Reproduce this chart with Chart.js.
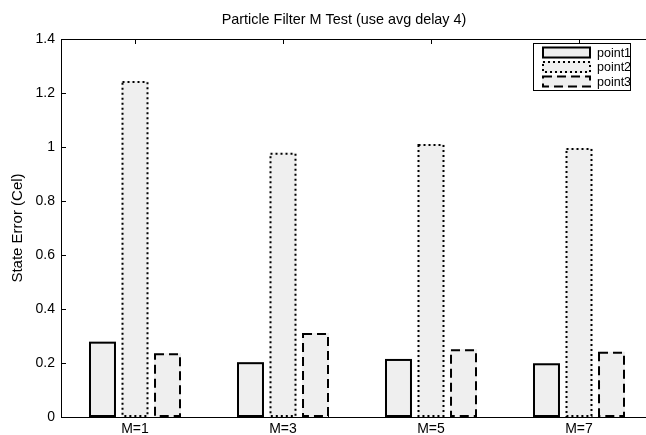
<!DOCTYPE html>
<html>
<head>
<meta charset="utf-8">
<script src="https://cdn.jsdelivr.net/npm/chart.js@4/dist/chart.umd.min.js"></script>
<style>
  html, body { margin: 0; padding: 0; background: #fff; overflow: hidden; }
  #wrap { width: 646px; height: 435px; overflow: hidden; }
  canvas { display: block; }
</style>
</head>
<body>
<div id="wrap"><canvas id="c" width="680" height="435"></canvas></div>
<script>
// Categories and series values
const categories = ['M=1', 'M=3', 'M=5', 'M=7'];
const seriesNames = ['point1', 'point2', 'point3'];
const point1 = [0.279, 0.203, 0.215, 0.199];
const point2 = [1.244, 0.979, 1.011, 0.996];
const point3 = [0.236, 0.311, 0.251, 0.242];
const yTickLabels = ['0', '0.2', '0.4', '0.6', '0.8', '1', '1.2', '1.4'];

const FONT = '"Liberation Sans", Arial, Helvetica, sans-serif';
const FILL = '#efefef';

// Outlines, ticks, box, legend and title in a MATLAB-like style
const matlabStyle = {
  id: 'matlabStyle',
  beforeDatasetsDraw(chart) {
    const { ctx, chartArea: a, scales: { x, y } } = chart;
    ctx.save();
    ctx.strokeStyle = '#000';
    ctx.lineWidth = 1;
    ctx.beginPath();
    // y ticks pointing inward
    y.ticks.forEach(t => {
      const py = Math.round(y.getPixelForValue(t.value)) + 0.5;
      ctx.moveTo(a.left, py); ctx.lineTo(a.left + 5, py);
      ctx.moveTo(a.right, py); ctx.lineTo(a.right - 5, py);
    });
    // x ticks at category centres, top and bottom
    categories.forEach((c, i) => {
      const px = Math.round(x.getPixelForValue(i)) + 0.5;
      ctx.moveTo(px, a.bottom); ctx.lineTo(px, a.bottom - 5);
      ctx.moveTo(px, a.top); ctx.lineTo(px, a.top + 5);
    });
    ctx.stroke();
    ctx.restore();
  },
  afterDatasetsDraw(chart) {
    const { ctx, chartArea: a } = chart;
    ctx.save();
    // bar outlines with each series' line style
    chart.data.datasets.forEach((ds, di) => {
      const meta = chart.getDatasetMeta(di);
      ctx.strokeStyle = '#000';
      ctx.lineWidth = 2;
      ctx.lineCap = 'butt';
      ctx.setLineDash(ds.outlineDash || []);
      meta.data.forEach(el => {
        const p = el.getProps(['x', 'y', 'base', 'width'], true);
        const left = p.x - p.width / 2;
        ctx.strokeRect(left + 1, p.y + 1, p.width - 2, p.base - p.y - 2);
      });
    });
    ctx.setLineDash([]);
    // axes box
    ctx.strokeStyle = '#000';
    ctx.lineWidth = 1;
    ctx.strokeRect(Math.round(a.left) + 0.5, Math.round(a.top) + 0.5,
                   Math.round(a.right - a.left), Math.round(a.bottom - a.top));

    // legend
    const lg = { left: 533.5, top: 43.5, right: 630.5, bottom: 90.5 };
    ctx.fillStyle = '#fff';
    ctx.fillRect(lg.left, lg.top, lg.right - lg.left, lg.bottom - lg.top);
    ctx.strokeRect(lg.left, lg.top, lg.right - lg.left, lg.bottom - lg.top);
    ctx.font = '12.5px ' + FONT;
    ctx.textBaseline = 'middle';
    ctx.textAlign = 'left';
    chart.data.datasets.forEach((ds, di) => {
      const cy = 52.5 + di * 14.5;
      ctx.fillStyle = FILL;
      ctx.fillRect(542, cy - 6, 49, 12);
      ctx.strokeStyle = '#000';
      ctx.lineWidth = 2;
      ctx.setLineDash(ds.outlineDash || []);
      ctx.strokeRect(543, cy - 5, 47, 10);
      ctx.setLineDash([]);
      ctx.fillStyle = '#000';
      ctx.fillText(ds.label, 597, cy + 1);
    });

    // title
    ctx.font = '14.4px ' + FONT;
    ctx.textAlign = 'center';
    ctx.textBaseline = 'middle';
    ctx.fillStyle = '#000';
    ctx.fillText('Particle Filter M Test (use avg delay 4)', 344, 20);
    ctx.restore();
  }
};

new Chart(document.getElementById('c'), {
  type: 'bar',
  data: {
    labels: categories,
    datasets: [
      { label: seriesNames[0], data: point1, outlineDash: [] },
      { label: seriesNames[1], data: point2, outlineDash: [2, 3] },
      { label: seriesNames[2], data: point3, outlineDash: [9, 5] }
    ].map(d => Object.assign(d, {
      backgroundColor: FILL,
      borderWidth: 0,
      categoryPercentage: 0.659,
      barPercentage: 0.83
    }))
  },
  options: {
    responsive: false,
    animation: false,
    devicePixelRatio: 1,
    layout: { padding: { top: 39, right: 27, left: 0, bottom: 0 } },
    plugins: { legend: { display: false }, title: { display: false }, tooltip: { enabled: false } },
    scales: {
      x: {
        grid: { display: false, drawTicks: false },
        border: { display: false },
        ticks: { color: '#000', font: { family: FONT, size: 14 }, padding: 4, maxRotation: 0 },
        afterFit(s) { s.height = 18; }
      },
      y: {
        min: 0, max: 1.4,
        grid: { display: false, drawTicks: false },
        border: { display: false },
        ticks: {
          stepSize: 0.2,
          color: '#000',
          font: { family: FONT, size: 14 },
          padding: 6,
          callback: (v, i) => yTickLabels[i]
        },
        title: {
          display: true,
          text: 'State Error (Cel)',
          color: '#000',
          font: { family: FONT, size: 15 },
          padding: { top: 9, bottom: 0 }
        },
        afterFit(s) { s.width = 61; }
      }
    }
  },
  plugins: [matlabStyle]
});
</script>
</body>
</html>
